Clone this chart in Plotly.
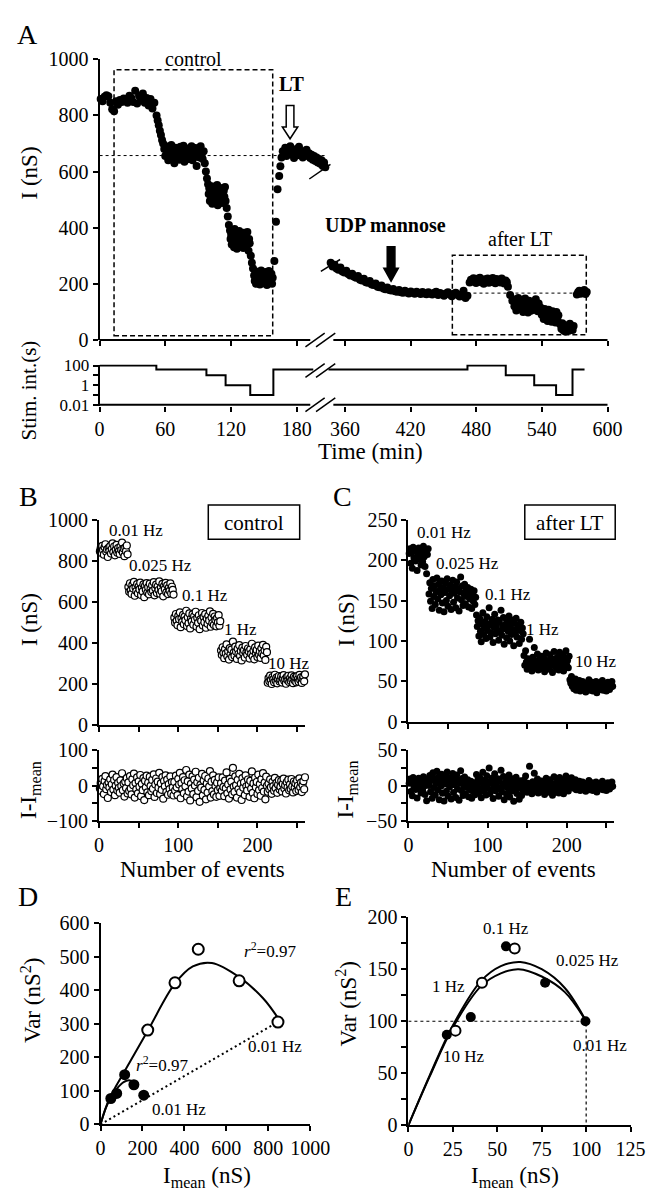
import numpy as np
import plotly.graph_objects as go

W, H = 658, 1199
FONT = "Liberation Serif"

# ---------------- panel A: time course, I (nS) vs time (min) ----------------
# left part of the broken axis (control, then LT)
A_T_CTRL_001 = (1, 50)
A_I_CTRL_001 = [858, 850, 866, 872, 868, 845, 822, 815, 850, 838, 855, 848, 860, 852, 845,
                870, 862, 848, 888, 842, 870, 856, 878, 845, 862, 835, 858, 825, 845]
A_T_DROP1 = (52, 58)
A_I_DROP1 = [800, 782, 765, 745, 730, 712, 700]
A_T_CTRL_0025 = (59, 95)
A_I_CTRL_0025 = [680, 655, 690, 668, 640, 675, 660, 695, 648, 672, 630, 685, 662, 650, 678,
                 642, 688, 665, 655, 692, 635, 670, 660, 682, 645, 675, 658, 690, 640, 668,
                 652, 684, 620, 662, 675, 650, 690, 660, 645, 672]
A_T_DROP2 = (96, 98)
A_I_DROP2 = [630, 600, 575]
A_T_CTRL_01 = (99, 115)
A_I_CTRL_01 = [555, 520, 540, 495, 530, 510, 548, 485, 525, 500, 545, 515, 490, 535, 505,
               552, 480, 528, 512, 542, 498, 522, 538, 488, 518, 503, 532, 510, 545, 495]
A_T_DROP3 = (116, 118)
A_I_DROP3 = [470, 440, 410]
A_T_CTRL_1 = (119, 137)
A_I_CTRL_1 = [390, 360, 375, 340, 385, 350, 370, 330, 395, 355, 345, 380, 325, 365, 372,
              338, 388, 352, 362, 335, 378, 348, 368, 328, 382, 358, 342, 372, 336, 362,
              385, 350, 318, 360, 345]
A_T_DROP4 = (138, 140)
A_I_DROP4 = [300, 275, 255]
A_T_CTRL_10 = (141, 158)
A_I_CTRL_10 = [230, 210, 245, 200, 225, 215, 240, 205, 235, 198, 220, 248, 212, 230, 202,
               238, 218, 208, 242, 225, 196, 232, 214, 246, 205, 228, 210, 236, 200, 222]
A_T_RECOVERY = [159.5, 161, 162.4, 163.9, 165]
A_I_RECOVERY = [281, 421, 537, 584, 619]
A_T_LT = (166, 206)
A_I_LT = [650, 672, 660, 685, 655, 678, 668, 690, 662, 675, 648, 670, 680, 658, 688,
          665, 672, 650, 668, 660, 678, 655, 665, 648, 660, 642, 655, 638, 650, 632,
          645, 628, 640, 620, 632, 615]

# right part of the broken axis (UDP mannose, after LT)
A_T_UDP = (347, 472)
A_I_UDP = [275, 262, 268, 255, 250, 258, 244, 240, 247, 235, 230, 236, 225, 222, 228,
           215, 212, 218, 206, 204, 210, 198, 196, 201, 190, 188, 194, 183, 181, 187,
           178, 176, 182, 174, 172, 178, 170, 168, 175, 169, 166, 173, 168, 165, 172,
           167, 164, 171, 166, 163, 170, 165, 162, 168, 172, 160, 167, 163, 158, 166,
           170, 162, 156, 165, 168, 160, 155, 163, 175, 150, 158]
A_T_AFTER_001 = (474, 508)
A_I_AFTER_001 = [205, 215, 208, 220, 212, 203, 218, 210, 222, 206, 214, 200, 216, 209, 219,
                 204, 213, 207, 221, 211, 202, 217, 208, 214, 205, 219, 210, 201, 212, 206]
A_T_DROP5 = (509, 513)
A_I_DROP5 = [190, 160, 140]
A_T_AFTER_01 = (514, 538)
A_I_AFTER_01 = [145, 120, 135, 105, 128, 150, 112, 138, 118, 142, 100, 125, 148, 110,
                132, 98, 140, 122, 104, 136, 115, 128, 108, 145, 120, 102, 130, 112]
A_T_AFTER_1 = (539, 556)
A_I_AFTER_1 = [115, 90, 105, 75, 110, 82, 98, 68, 108, 85, 95, 65, 102, 78, 92, 62, 100,
               72, 88, 60]
A_T_AFTER_10 = (557, 569)
A_I_AFTER_10 = [55, 40, 60, 35, 50, 30, 52, 42, 48, 33, 58, 38, 45, 36, 50]
A_T_BACK = (572, 581)
A_I_BACK = [162, 170, 175, 165, 172, 168, 178, 164, 171]

A_REF_CTRL = 657     # dotted reference level, left part
A_REF_AFTER = 167    # dotted reference level, right part

# stimulation interval (s), step trace
STIM_LEFT_T = [0, 51.8, 97.5, 115, 137.5, 158.6, 195]
STIM_LEFT_S = [100, 40, 10, 1, 0.1, 40, 40]
STIM_RIGHT_T = [345, 472, 507, 533, 553, 568, 579]
STIM_RIGHT_S = [40, 100, 10, 1, 0.1, 40, 40]

# ---------------- panel B: control, I (nS) per event ----------------
B_001 = [845, 860, 838, 872, 851, 829, 866, 880, 843, 855, 818, 862, 848, 871, 835, 857,
         884, 842, 869, 826, 853, 877, 839, 861, 847, 833, 868, 852, 888, 840, 859, 822,
         864, 846, 874, 831]
B_0025 = [672, 648, 690, 655, 638, 681, 664, 697, 629, 670, 652, 686, 641, 675, 660, 693,
          633, 668, 650, 684, 622, 677, 658, 691, 644, 671, 636, 688, 662, 647, 679, 654,
          695, 631, 666, 683, 642, 674, 657, 699, 639, 669, 651, 687, 626, 676, 661, 692,
          645, 680, 637, 667, 653, 689, 640, 673, 658, 635]
B_01 = [522, 498, 540, 507, 485, 531, 515, 548, 476, 519, 502, 536, 490, 527, 510, 556,
        481, 524, 495, 543, 470, 517, 504, 538, 488, 529, 512, 551, 479, 521, 497, 534,
        466, 514, 506, 545, 484, 526, 500, 539, 473, 518, 492, 532, 509, 553, 478, 523,
        496, 541, 487, 528, 511, 480, 520, 499, 535, 483, 505]
B_1 = [362, 340, 378, 351, 325, 369, 347, 392, 333, 358, 318, 374, 344, 366, 330, 405,
       352, 337, 381, 356, 321, 371, 345, 388, 336, 360, 314, 376, 349, 364, 328, 384,
       353, 341, 372, 357, 323, 368, 346, 395, 334, 361, 319, 377, 350, 365, 331, 386,
       342, 359, 326, 373, 348, 390, 338, 363, 316, 380, 354]
B_10 = [205, 228, 212, 240, 218, 199, 233, 221, 208, 244, 215, 230, 202, 225, 238, 211,
        219, 236, 206, 227, 242, 214, 223, 200, 232, 217, 239, 209, 226, 213, 241, 220,
        203, 234, 216, 229, 207, 237, 222, 210, 243, 218, 231, 204, 224, 235, 212, 246]

# ---------------- panel C: after LT, I (nS) per event ----------------
C_001 = [208, 214, 196, 210, 190, 216, 203, 211, 199, 213, 187, 206, 215, 201, 209, 194,
         212, 198, 217, 204, 192, 211, 183, 207, 214]
C_0025 = [158, 172, 149, 165, 140, 176, 155, 168, 145, 161, 178, 152, 170, 138, 163, 157,
          174, 147, 166, 136, 160, 171, 150, 177, 143, 164, 156, 169, 139, 162, 175, 148,
          159, 167, 141, 173, 153, 165, 137, 161, 179, 151, 168, 144, 158, 170, 146, 163,
          155, 166, 142, 160, 152, 164, 140, 157, 149, 162, 145, 154]
C_01 = [132, 118, 125, 106, 128, 112, 99, 121, 135, 108, 116, 124, 103, 130, 113, 119,
        141, 105, 122, 110, 127, 98, 117, 133, 109, 120, 114, 126, 101, 123, 111, 138,
        107, 118, 129, 96, 115, 121, 104, 124, 112, 131, 100, 119, 108, 126, 114, 94,
        122, 110, 128, 105, 117, 120, 97, 113, 123, 102, 116, 109]
C_1 = [82, 70, 88, 74, 65, 78, 71, 102, 68, 76, 63, 80, 72, 92, 67, 75, 70, 84, 64, 77,
       69, 73, 81, 66, 74, 79, 62, 71, 85, 68, 76, 72, 65, 83, 70, 78, 61, 74, 87, 69,
       75, 66, 80, 71, 64, 86, 73, 77, 68, 82, 63, 79, 72, 88, 70, 76, 67, 81]
C_10 = [52, 48, 56, 44, 50, 41, 47, 53, 39, 45, 49, 42, 51, 38, 46, 44, 50, 40, 47, 43,
        37, 48, 45, 41, 52, 39, 46, 43, 49, 38, 44, 47, 41, 50, 36, 45, 42, 48, 40, 46,
        43, 51, 39, 44, 47, 41, 38, 45, 49, 42, 40, 46, 43, 50, 44]

# ---------------- panel D: variance vs mean ----------------
D_CTRL_I = [225, 355, 466, 661, 846]
D_CTRL_VAR = [281, 422, 522, 428, 305]
D_LT_I = [49, 77, 115, 159, 206]
D_LT_VAR = [77, 92, 148, 118, 87]
D_FIT_CTRL_I = [0, 41, 118, 225, 355, 440, 531, 661, 775, 845]
D_FIT_CTRL_VAR = [0, 75, 162, 279, 420, 471, 481, 439, 376, 318]
D_FIT_LT_I = [0, 25, 49, 80, 110, 140, 170]
D_FIT_LT_VAR = [0, 48, 80, 108, 126, 131, 121]

# ---------------- panel E: normalised variance vs mean ----------------
E_LT_I = [21.6, 35.1, 54.9, 76.9, 99.6]
E_LT_VAR = [87, 104, 172, 137, 100]
E_CTRL_I = [26.5, 41.4, 59.8]
E_CTRL_VAR = [91, 137, 170]
E_FIT_A_I = [0, 12, 25, 41, 52, 63, 75, 88, 100]
E_FIT_A_VAR = [0, 48, 96, 139, 153, 157, 150, 132, 100]
E_FIT_B_I = [0, 12, 25, 41, 52, 62, 75, 88, 100]
E_FIT_B_VAR = [0, 47, 94, 134, 146, 150, 143, 128, 100]


def px_x(p):
    return p / W


def px_y(p):
    return 1 - p / H


def xdom(left, right):
    return [px_x(left), px_x(right)]


def ydom(top, bottom):
    return [px_y(bottom), px_y(top)]


def segment(window, values):
    return np.linspace(window[0], window[1], len(values)), values


def label(x, y, text, size=17, angle=0, bold=False):
    if bold:
        text = "<b>" + text + "</b>"
    return dict(x=px_x(x), y=px_y(y), xref="paper", yref="paper", text=text,
                showarrow=False, textangle=angle, xanchor="center", yanchor="middle",
                font=dict(family=FONT, size=size, color="black"))


def line_px(x0, y0, x1, y1, width=1.5, dash="solid"):
    return dict(type="line", xref="paper", yref="paper", x0=px_x(x0), y0=px_y(y0),
                x1=px_x(x1), y1=px_y(y1), line=dict(color="black", width=width, dash=dash))


def path_px(points, fill):
    d = "M " + " L ".join(f"{px_x(x):.5f},{px_y(y):.5f}" for x, y in points) + " Z"
    return dict(type="path", xref="paper", yref="paper", path=d, fillcolor=fill,
                line=dict(color="black", width=1.5))


fig = go.Figure()

dot = dict(color="black", size=8)
left_segments = [
    segment(A_T_CTRL_001, A_I_CTRL_001), segment(A_T_DROP1, A_I_DROP1),
    segment(A_T_CTRL_0025, A_I_CTRL_0025), segment(A_T_DROP2, A_I_DROP2),
    segment(A_T_CTRL_01, A_I_CTRL_01), segment(A_T_DROP3, A_I_DROP3),
    segment(A_T_CTRL_1, A_I_CTRL_1), segment(A_T_DROP4, A_I_DROP4),
    segment(A_T_CTRL_10, A_I_CTRL_10), (A_T_RECOVERY, A_I_RECOVERY),
    segment(A_T_LT, A_I_LT),
]
right_segments = [
    segment(A_T_UDP, A_I_UDP), segment(A_T_AFTER_001, A_I_AFTER_001),
    segment(A_T_DROP5, A_I_DROP5), segment(A_T_AFTER_01, A_I_AFTER_01),
    segment(A_T_AFTER_1, A_I_AFTER_1), segment(A_T_AFTER_10, A_I_AFTER_10),
    segment(A_T_BACK, A_I_BACK),
]
lt = np.concatenate([s[0] for s in left_segments])
li = np.concatenate([s[1] for s in left_segments])
rt = np.concatenate([s[0] for s in right_segments])
ri = np.concatenate([s[1] for s in right_segments])

fig.add_trace(go.Scatter(x=[0, 208], y=[A_REF_CTRL] * 2, mode="lines", xaxis="x", yaxis="y",
                         line=dict(color="black", width=1, dash="dot")))
fig.add_trace(go.Scatter(x=[472, 568], y=[A_REF_AFTER] * 2, mode="lines", xaxis="x2", yaxis="y",
                         line=dict(color="black", width=1, dash="dot")))
fig.add_trace(go.Scatter(x=lt, y=li, mode="markers", marker=dot, xaxis="x", yaxis="y",
                         cliponaxis=False))
fig.add_trace(go.Scatter(x=rt, y=ri, mode="markers", marker=dot, xaxis="x2", yaxis="y",
                         cliponaxis=False))

fig.add_trace(go.Scatter(x=STIM_LEFT_T, y=STIM_LEFT_S, mode="lines", line_shape="hv",
                         line=dict(color="black", width=2), xaxis="x3", yaxis="y2"))
fig.add_trace(go.Scatter(x=STIM_RIGHT_T, y=STIM_RIGHT_S, mode="lines", line_shape="hv",
                         line=dict(color="black", width=2), xaxis="x4", yaxis="y2"))

# panels B and C: raw values and deviation from the mean of each frequency
open_dot = dict(color="white", size=7, line=dict(color="black", width=1.2))
fill_dot = dict(color="black", size=7)
for groups, mk, xa_top, ya_top, xa_bot, ya_bot in [
    ([B_001, B_0025, B_01, B_1, B_10], open_dot, "x5", "y3", "x6", "y4"),
    ([C_001, C_0025, C_01, C_1, C_10], fill_dot, "x7", "y5", "x8", "y6"),
]:
    vals = np.concatenate([np.array(g, dtype=float) for g in groups])
    dev = np.concatenate([np.array(g, dtype=float) - np.mean(g) for g in groups])
    events = np.arange(1, len(vals) + 1)
    fig.add_trace(go.Scatter(x=events, y=vals, mode="markers", marker=mk, xaxis=xa_top,
                             yaxis=ya_top, cliponaxis=False))
    fig.add_trace(go.Scatter(x=events, y=dev, mode="markers", marker=mk, xaxis=xa_bot,
                             yaxis=ya_bot, cliponaxis=False))

# panel D
fig.add_trace(go.Scatter(x=[0, D_CTRL_I[-1]], y=[0, D_CTRL_VAR[-1]], mode="lines",
                         line=dict(color="black", width=2, dash="2px,3px"), xaxis="x9", yaxis="y7"))
fig.add_trace(go.Scatter(x=D_FIT_CTRL_I, y=D_FIT_CTRL_VAR, mode="lines", line_shape="spline",
                         line=dict(color="black", width=2), xaxis="x9", yaxis="y7"))
fig.add_trace(go.Scatter(x=D_FIT_LT_I, y=D_FIT_LT_VAR, mode="lines", line_shape="spline",
                         line=dict(color="black", width=2), xaxis="x9", yaxis="y7"))
fig.add_trace(go.Scatter(x=D_CTRL_I, y=D_CTRL_VAR, mode="markers", xaxis="x9", yaxis="y7",
                         marker=dict(color="white", size=11, line=dict(color="black", width=2)),
                         cliponaxis=False))
fig.add_trace(go.Scatter(x=D_LT_I, y=D_LT_VAR, mode="markers", xaxis="x9", yaxis="y7",
                         marker=dict(color="black", size=11), cliponaxis=False))

# panel E
fig.add_trace(go.Scatter(x=[0, 100, 100], y=[100, 100, 0], mode="lines",
                         line=dict(color="black", width=1.2, dash="dot"), xaxis="x10", yaxis="y8"))
fig.add_trace(go.Scatter(x=E_FIT_A_I, y=E_FIT_A_VAR, mode="lines", line_shape="spline",
                         line=dict(color="black", width=2), xaxis="x10", yaxis="y8"))
fig.add_trace(go.Scatter(x=E_FIT_B_I, y=E_FIT_B_VAR, mode="lines", line_shape="spline",
                         line=dict(color="black", width=2), xaxis="x10", yaxis="y8"))
fig.add_trace(go.Scatter(x=E_LT_I, y=E_LT_VAR, mode="markers", xaxis="x10", yaxis="y8",
                         marker=dict(color="black", size=10), cliponaxis=False))
fig.add_trace(go.Scatter(x=E_CTRL_I, y=E_CTRL_VAR, mode="markers", xaxis="x10", yaxis="y8",
                         marker=dict(color="white", size=10, line=dict(color="black", width=2)),
                         cliponaxis=False))

tickfont = dict(family=FONT, size=20, color="black")
base = dict(showgrid=False, zeroline=False, ticks="outside", ticklen=5, tickwidth=1.5,
            tickcolor="black", linecolor="black", linewidth=2, tickfont=tickfont,
            fixedrange=True)


def ax(minor_vals=None, **kw):
    d = dict(base)
    d.update(kw)
    if minor_vals is not None:
        d["minor"] = dict(tickmode="array", tickvals=minor_vals, ticks="outside", ticklen=5,
                          tickwidth=1.5, tickcolor="black", showgrid=False)
    return d


LEFT_DOM, LEFT_RANGE = xdom(90, 330), [0, 210.7]
RIGHT_DOM, RIGHT_RANGE = xdom(318, 618), [336.26, 600]
LEFT_TICKS = [0, 60, 120, 180]
RIGHT_TICKS = [360, 420, 480, 540, 600]
EV_TICKS = [0, 100, 200]
EV_MINOR = [50, 150, 250]

fig.update_layout(
    width=W, height=H, margin=dict(l=0, r=0, t=0, b=0),
    paper_bgcolor="white", plot_bgcolor="rgba(0,0,0,0)", showlegend=False,
    font=dict(family=FONT, color="black"),
    xaxis=ax(domain=LEFT_DOM, range=LEFT_RANGE, anchor="y", tickvals=LEFT_TICKS,
             showticklabels=False, showline=False),
    xaxis2=ax(domain=RIGHT_DOM, range=RIGHT_RANGE, anchor="y", tickvals=RIGHT_TICKS,
              showticklabels=False, showline=False),
    yaxis=ax(domain=ydom(41, 327), range=[0, 1000], anchor="x",
             tickvals=[0, 200, 400, 600, 800, 1000], showline=True),
    xaxis3=ax(domain=LEFT_DOM, range=LEFT_RANGE, anchor="y2", tickvals=LEFT_TICKS,
              showline=False),
    xaxis4=ax(domain=RIGHT_DOM, range=RIGHT_RANGE, anchor="y2", tickvals=RIGHT_TICKS,
              showline=False),
    # log axis: 10 px per decade, padded a little so the 100 s level is not clipped
    yaxis2=ax(minor_vals=[0.1, 10], domain=ydom(352, 394), type="log", range=[-2.1, 2.1],
              anchor="x3", tickvals=[0.01, 1, 100], ticktext=["0.01", "1", "100"],
              tickfont=dict(family=FONT, size=17, color="black"), showline=True),
    xaxis5=ax(minor_vals=EV_MINOR, domain=xdom(89.5, 303.5), range=[0, 260], anchor="y3",
              tickvals=EV_TICKS, showticklabels=False, showline=True),
    yaxis3=ax(domain=ydom(510, 719), range=[0, 1000], anchor="x5",
              tickvals=[0, 200, 400, 600, 800, 1000], showline=True),
    xaxis6=ax(minor_vals=EV_MINOR, domain=xdom(89.5, 303.5), range=[0, 260], anchor="y4",
              tickvals=EV_TICKS, showline=True),
    yaxis4=ax(minor_vals=[-50, 50], domain=ydom(745, 817), range=[-100, 100], anchor="x6",
              tickvals=[-100, 0, 100], showline=True),
    xaxis7=ax(minor_vals=EV_MINOR, domain=xdom(411, 625), range=[0, 260], anchor="y5",
              tickvals=EV_TICKS, showticklabels=False, showline=True),
    yaxis5=ax(domain=ydom(510, 716), range=[0, 250], anchor="x7",
              tickvals=[0, 50, 100, 150, 200, 250], showline=True),
    xaxis8=ax(minor_vals=EV_MINOR, domain=xdom(411, 625), range=[0, 260], anchor="y6",
              tickvals=EV_TICKS, showline=True),
    yaxis6=ax(minor_vals=[-25, 25], domain=ydom(745, 817), range=[-50, 50], anchor="x8",
              tickvals=[-50, 0, 50], showline=True),
    xaxis9=ax(domain=xdom(91, 309), range=[0, 1000], anchor="y7",
              tickvals=[0, 200, 400, 600, 800, 1000], showline=True),
    yaxis7=ax(domain=ydom(921, 1126), range=[0, 600], anchor="x9",
              tickvals=[0, 100, 200, 300, 400, 500, 600], showline=True),
    xaxis10=ax(domain=xdom(411, 642), range=[0, 125], anchor="y8",
               tickvals=[0, 25, 50, 75, 100, 125], showline=True),
    yaxis8=ax(minor_vals=[25, 75, 125, 175], domain=ydom(915, 1127), range=[0, 200],
              anchor="x10", tickvals=[0, 50, 100, 150, 200], showline=True),
)

shapes = [
    # broken time axis: axis lines and break marks
    line_px(90, 327, 309, 327, 2), line_px(333, 327, 618, 327, 2),
    line_px(90, 393, 309, 393, 2), line_px(333, 393, 618, 393, 2),
    # control / after LT boxes
    dict(type="rect", xref="x", yref="y", x0=13.2, x1=158, y0=15, y1=963,
         line=dict(color="black", width=1.5, dash="5px,3px")),
    dict(type="rect", xref="x2", yref="y", x0=458.2, x1=580.6, y0=18.5, y1=302,
         line=dict(color="black", width=1.5, dash="5px,3px")),
    # data break slashes
    line_px(308, 163, 330, 148), line_px(320, 257, 340, 245),
    # arrows
    path_px([(284, 88), (292, 88), (292, 110), (296, 110), (288, 122), (280, 110),
             (284, 110)], "white"),
    path_px([(389, 232), (397, 232), (397, 254), (400.5, 254), (393, 267), (385.5, 254),
             (389, 254)], "black"),
    # labelled boxes in B and C
    dict(type="rect", xref="paper", yref="paper", x0=px_x(203), x1=px_x(298),
         y0=px_y(530), y1=px_y(495), line=dict(color="black", width=1.5)),
    dict(type="rect", xref="paper", yref="paper", x0=px_x(532), x1=px_x(626),
         y0=px_y(530), y1=px_y(495), line=dict(color="black", width=1.5)),
]
for yc in (327, 358, 393):
    shapes.append(line_px(304, yc + 7, 324, yc - 7))
    shapes.append(line_px(315, yc + 7, 335, yc - 7))
fig.update_layout(shapes=shapes)

annotations = [
    label(15, 16, "A", 28), label(16, 486, "B", 28), label(342, 486, "C", 28),
    label(16, 894, "D", 28), label(344, 894, "E", 28),
    label(188, 41, "control", 20), label(290, 66, "LT", 20, bold=True),
    label(387, 210, "UDP mannose", 20, bold=True), label(527, 224, "after LT", 20),
    label(17, 157, "I (nS)", 23, -90), label(17, 378, "Stim. int.(s)", 21, -90),
    label(372, 441, "Time (min)", 23),
    label(250, 513, "control", 21), label(579, 513, "after LT", 21),
    label(128, 521, "0.01 Hz"), label(153, 557, "0.025 Hz"), label(200, 587, "0.1 Hz"),
    label(237, 622, "1 Hz"), label(287, 657, "10 Hz"),
    label(448, 523, "0.01 Hz"), label(472, 555, "0.025 Hz"), label(515, 586, "0.1 Hz"),
    label(550, 622, "1 Hz"), label(606, 655, "10 Hz"),
    label(17, 612, "I (nS)", 23, -90), label(17, 785, "I-I<sub>mean</sub>", 23, -90),
    label(347, 612, "I (nS)", 23, -90), label(347, 785, "I-I<sub>mean</sub>", 23, -90),
    label(197, 866, "Number of events", 23), label(520, 866, "Number of events", 23),
    label(19, 1000, "Var (nS<sup>2</sup>)", 23, -90),
    label(347, 1003, "Var (nS<sup>2</sup>)", 23, -90),
    label(202, 1180, "I<sub>mean</sub> (nS)", 23), label(522, 1180, "I<sub>mean</sub> (nS)", 23),
    label(267, 948, "<i>r</i><sup>2</sup>=0.97"), label(155, 1065, "<i>r</i><sup>2</sup>=0.97"),
    label(272, 1047, "0.01 Hz"), label(173, 1111, "0.01 Hz"),
    label(512, 927, "0.1 Hz"), label(597, 959, "0.025 Hz"), label(453, 986, "1 Hz"),
    label(469, 1057, "10 Hz"), label(610, 1046, "0.01 Hz"),
]
fig.update_layout(annotations=annotations)

fig.write_html("out.html")
